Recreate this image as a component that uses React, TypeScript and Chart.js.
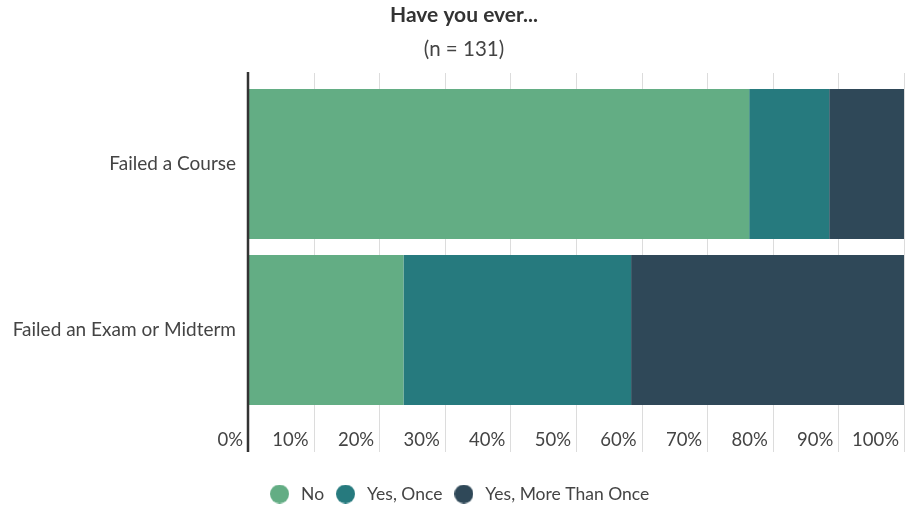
import React, { useEffect, useRef } from "react";
import { Chart, registerables } from "chart.js";

Chart.register(...registerables);

const categories = ["Failed a Course", "Failed an Exam or Midterm"];
const seriesNames = ["No", "Yes, Once", "Yes, More Than Once"];
const noValues = [76.4, 23.7];
const onceValues = [12.2, 34.7];
const moreValues = [11.4, 41.6];
const seriesColors = ["#63ad84", "#267a7e", "#2f4858"];
const xTicks = [0, 10, 20, 30, 40, 50, 60, 70, 80, 90, 100];
const titleText = "Have you ever...";
const subtitleText = "(n = 131)";

const FONT = "Lato, 'Open Sans', sans-serif";

function makeDot(color: string) {
  const c = document.createElement("canvas");
  c.width = 19;
  c.height = 19;
  const g = c.getContext("2d")!;
  g.fillStyle = color;
  g.beginPath();
  g.arc(9.5, 9.5, 9.5, 0, Math.PI * 2);
  g.fill();
  return c;
}

const decorPlugin = {
  id: "decor",
  afterLayout(chart: any) {
    if (chart.legend) {
      chart.legend.left += 6;
      chart.legend.right += 6;
    }
  },
  beforeDatasetsDraw(chart: any) {
    const { ctx, chartArea, scales } = chart;
    const x = scales.x;
    ctx.save();
    ctx.strokeStyle = "#dcdcdc";
    ctx.lineWidth = 1;
    for (const v of xTicks) {
      const px = Math.round(x.getPixelForValue(v)) + 0.5;
      ctx.beginPath();
      ctx.moveTo(px, chartArea.top - 8);
      ctx.lineTo(px, chartArea.bottom + 39);
      ctx.stroke();
    }
    ctx.restore();
  },
  afterDatasetsDraw(chart: any) {
    const { ctx, chartArea } = chart;
    ctx.save();
    ctx.strokeStyle = "#333333";
    ctx.lineWidth = 2.5;
    ctx.beginPath();
    ctx.moveTo(chartArea.left, chartArea.top - 9);
    ctx.lineTo(chartArea.left, chartArea.bottom + 39);
    ctx.stroke();
    ctx.restore();
  },
  afterDraw(chart: any) {
    const { ctx } = chart;
    const cx = 464;
    ctx.save();
    ctx.textAlign = "center";
    ctx.textBaseline = "middle";
    ctx.fillStyle = "#333";
    ctx.font = `bold 21px ${FONT}`;
    ctx.fillText(titleText, cx, 15.6);
    ctx.fillStyle = "#444";
    ctx.font = `normal 20.5px ${FONT}`;
    ctx.fillText(subtitleText, cx, 49);
    ctx.restore();
  },
};

export default function App() {
  const ref = useRef<HTMLCanvasElement>(null);
  useEffect(() => {
    if (!ref.current) return;
    const values = [noValues, onceValues, moreValues];
    const chart = new Chart(ref.current, {
      type: "bar",
      data: {
        labels: categories,
        datasets: seriesNames.map((name, i) => ({
          label: name,
          data: values[i],
          backgroundColor: seriesColors[i],
          borderWidth: 0,
          categoryPercentage: 1,
          barPercentage: 0.9036,
          pointStyle: makeDot(seriesColors[i]),
        })),
      },
      options: {
        indexAxis: "y",
        animation: false,
        responsive: false,
        maintainAspectRatio: false,
        layout: { padding: { left: 0, right: 1, top: 81, bottom: -7.75 } },
        scales: {
          x: {
            stacked: true,
            min: 0,
            max: 100,
            afterBuildTicks(scale: any) {
              scale.ticks = xTicks.map((v) => ({ value: v }));
            },
            afterFit(scale: any) {
              scale.height = 63.5;
            },
            grid: { display: false, drawTicks: true, tickLength: 16 },
            border: { display: false },
            ticks: {
              align: "end",
              labelOffset: -5,
              padding: 0,
              color: "#444",
              font: { family: FONT, size: 18.5 },
              callback: (v: any) => v + "%",
            },
          },
          y: {
            stacked: true,
            afterFit(scale: any) {
              scale.width = 248;
            },
            grid: { display: false, drawTicks: false },
            border: { display: false },
            ticks: {
              padding: 12,
              color: "#444",
              font: { family: FONT, size: 19 },
            },
          },
        },
        plugins: {
          title: { display: false },
          subtitle: { display: false },
          legend: {
            position: "bottom",
            labels: {
              usePointStyle: true,
              pointStyleWidth: 25.5,
              boxHeight: 13.4,
              padding: 8.75,
              color: "#444",
              font: { family: FONT, size: 17.5 },
            },
          },
          tooltip: { enabled: false },
        },
      },
      plugins: [decorPlugin],
    } as any);
    return () => chart.destroy();
  }, []);
  return (
    <div style={{ position: "absolute", left: 0, top: 0, width: 905, height: 505, background: "#fff" }}>
      <canvas ref={ref} width={905} height={505} style={{ display: "block" }} />
    </div>
  );
}
